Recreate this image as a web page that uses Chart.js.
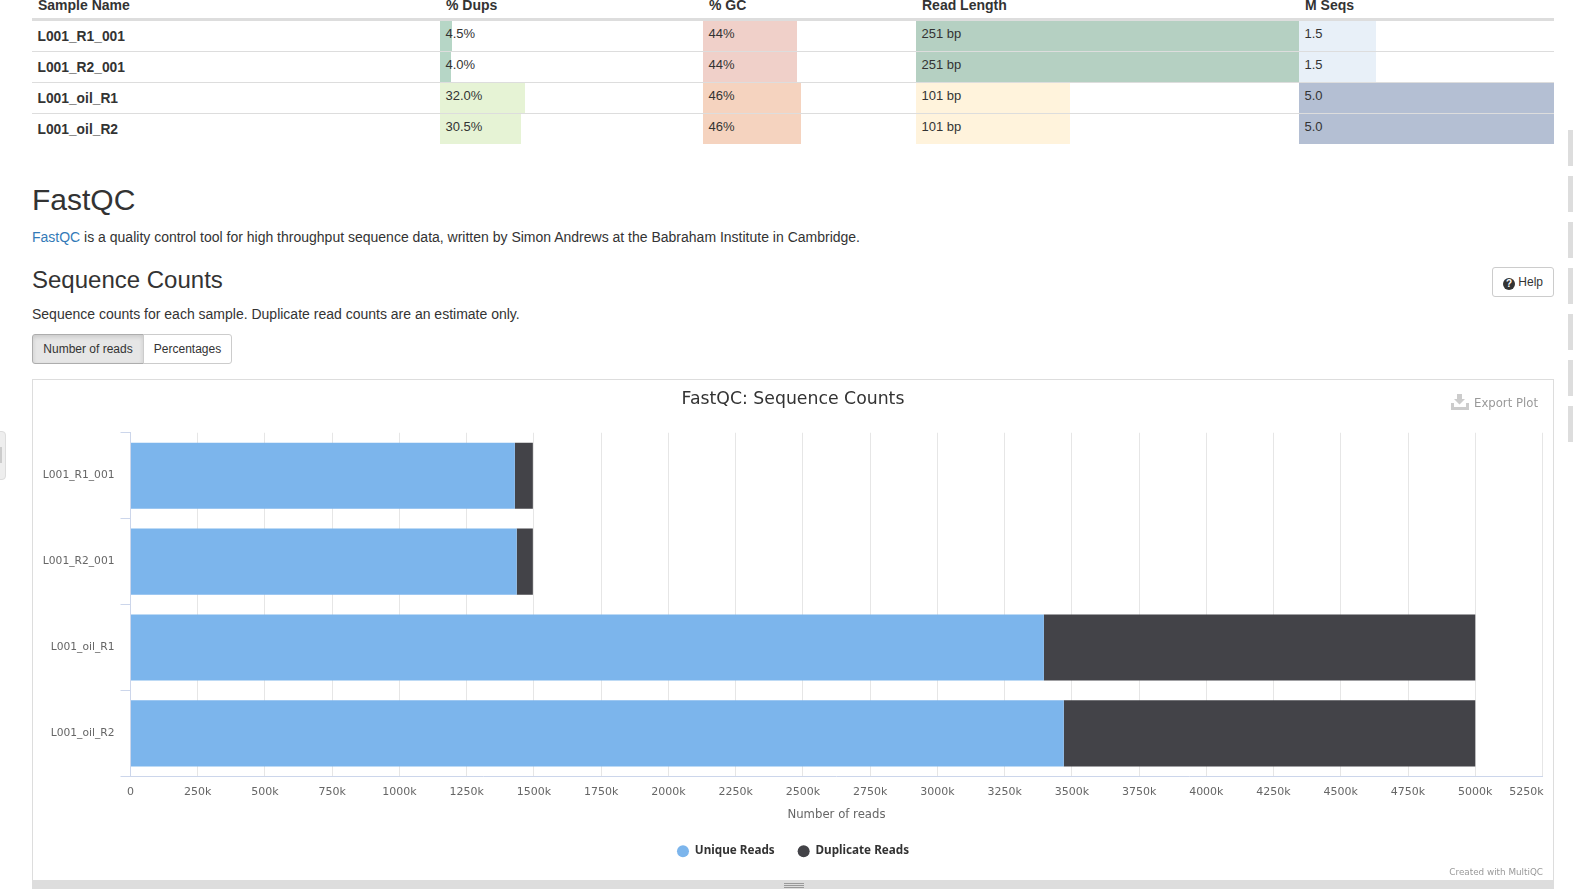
<!DOCTYPE html>
<html>
<head>
<meta charset="utf-8">
<title>FastQC: Sequence Counts</title>
<script src="https://cdn.jsdelivr.net/npm/chart.js@4"></script>
<style>
    html, body { margin: 0; padding: 0; background: #fff; }
    body { width: 1573px; height: 889px; overflow: hidden; position: relative; font-family: "Liberation Sans", Arial, sans-serif; font-size: 14px; color: #333; }
    .abs { position: absolute; white-space: nowrap; }
    .cell-bar { position: absolute; height: 30px; }
    .cell-text { position: absolute; line-height: 20px; color: #333; white-space: nowrap; }
    .btn { position: absolute; box-sizing: border-box; border: 1px solid #ccc; text-align: center; font-size: 12px; background: #fff; }
    #chart-box { position: absolute; left: 32px; top: 379px; width: 1522px; height: 501px; box-sizing: border-box; border: 1px solid #ddd; border-bottom: none; }
    #chart-wrap { position: absolute; left: 0; top: 0; width: 1520px; height: 500px; }
</style>
</head>
<body>
<div id="summary"></div>

<div class="abs" style="left:32px;top:182px;font-size:30px;line-height:36px;">FastQC</div>
<div class="abs" style="left:32px;top:227px;line-height:20px;"><span style="color:#337ab7;">FastQC</span> is a quality control tool for high throughput sequence data, written by Simon Andrews at the Babraham Institute in Cambridge.</div>
<div class="abs" style="left:32px;top:266px;font-size:24px;line-height:28px;">Sequence Counts</div>
<div class="abs" style="left:32px;top:304px;line-height:20px;">Sequence counts for each sample. Duplicate read counts are an estimate only.</div>

<div class="btn" style="left:32px;top:334px;width:112px;height:30px;line-height:28px;background:#e6e6e6;border-color:#adadad;border-radius:3px 0 0 3px;box-shadow:inset 0 2px 4px rgba(0,0,0,.125);">Number of reads</div>
<div class="btn" style="left:143px;top:334px;width:89px;height:30px;line-height:28px;border-radius:0 3px 3px 0;">Percentages</div>

<div class="btn" style="left:1492px;top:267px;width:62px;height:30px;line-height:28px;border-radius:3px;">
    <span style="display:inline-block;width:12px;height:12px;line-height:12px;border-radius:50%;background:#333;color:#fff;font-size:10px;font-weight:bold;vertical-align:-1px;">?</span> Help
</div>

<div id="chart-box">
    <div id="chart-wrap"><canvas id="sequence-counts"></canvas></div>
</div>

<svg class="abs" style="left:1451px;top:394px;" width="18" height="16" viewBox="0 0 18 16">
    <path d="M6 0h5v5h3l-5.5 5.5L3 5h3z M0 9h3v4h12V9h3v7H0z" fill="#ccc"/>
</svg>
<div class="abs" style="left:1474px;top:395px;font-family:'DejaVu Sans';font-size:11.7px;line-height:16px;color:#999;">Export Plot</div>
<div class="abs" style="right:30px;top:866px;font-family:'DejaVu Sans';font-size:8.8px;line-height:12px;color:#999;">Created with MultiQC</div>

<!-- drag handle under the plot -->
<div class="abs" style="left:32px;top:880px;width:1522px;height:9px;background:#ddd;"></div>
<div class="abs" style="left:784px;top:883px;width:20px;height:1px;background:#999;"></div>
<div class="abs" style="left:784px;top:885px;width:20px;height:1px;background:#999;"></div>
<div class="abs" style="left:784px;top:887px;width:20px;height:1px;background:#999;"></div>

<!-- page furniture at the window edges -->
<div class="abs" style="left:-6px;top:431px;width:12px;height:49px;box-sizing:border-box;background:#eee;border:1px solid #ddd;border-radius:4px;"></div>
<div class="abs" style="left:0;top:447px;width:2px;height:16px;background:#ccc;"></div>
<div id="side-strip"></div>

<script>
const sampleNames = ['L001_R1_001', 'L001_R2_001', 'L001_oil_R1', 'L001_oil_R2'];
const uniqueReads = [1429000, 1436000, 3396000, 3470000];
const duplicateReads = [67000, 60000, 1604000, 1530000];
const xTickStep = 250000;
const xMax = 5250000;

const pctDups = [4.5, 4.0, 32.0, 30.5];
const pctGC = [44, 44, 46, 46];
const readLength = [251, 251, 101, 101];
const mSeqs = [1.5, 1.5, 5.0, 5.0];

const dupsColors = ['#b6d6c6', '#b6d6c6', '#e6f3d5', '#e6f3d5'];
const gcColors = ['#f0d0c9', '#f0d0c9', '#f5d3bf', '#f5d3bf'];
const lengthColors = ['#b5d0c2', '#b5d0c2', '#fff3dc', '#fff3dc'];
const seqsColors = ['#e8f0f8', '#e8f0f8', '#b4bfd3', '#b4bfd3'];

// General stats table above the plot, bars are plain divs like the original report
function renderSummary() {
    const columns = [
        { title: '% Dups', left: 440, width: 266, max: 100, values: pctDups, colors: dupsColors, fmt: v => v.toFixed(1) + '%' },
        { title: '% GC', left: 703, width: 213, max: 100, values: pctGC, colors: gcColors, fmt: v => v + '%' },
        { title: 'Read Length', left: 916, width: 383, max: 251, values: readLength, colors: lengthColors, fmt: v => v + ' bp' },
        { title: 'M Seqs', left: 1299, width: 255, max: 5, values: mSeqs, colors: seqsColors, fmt: v => v.toFixed(1) }
    ];
    const rowTop = i => 21 + i * 31;

    let html = `<div class="cell-text" style="left:38px;top:-5px;font-weight:bold;">Sample Name</div>`;
    html += `<div class="abs" style="left:32px;top:18px;width:1522px;height:3px;background:#ddd;"></div>`;

    columns.forEach(col => {
        html += `<div class="cell-text" style="left:${col.left + 6}px;top:-5px;font-weight:bold;">${col.title}</div>`;
        col.values.forEach((v, i) => {
            const w = col.width * v / col.max;
            html += `<div class="cell-bar" style="left:${col.left}px;top:${rowTop(i)}px;width:${w}px;background:${col.colors[i]};"></div>`;
            html += `<div class="cell-text" style="left:${col.left + 5.5}px;top:${rowTop(i) + 3}px;font-size:13px;z-index:2;">${col.fmt(v)}</div>`;
        });
    });

    sampleNames.forEach((name, i) => {
        html += `<div class="cell-text" style="left:37.5px;top:${rowTop(i) + 6}px;font-weight:bold;font-size:13.8px;">${name}</div>`;
        if (i < 3) html += `<div class="abs" style="left:32px;top:${rowTop(i) + 30}px;width:1522px;height:1px;background:#ddd;z-index:1;"></div>`;
    });

    document.getElementById('summary').innerHTML = html;
}

function renderSideStrip() {
    let html = '';
    for (let i = 0; i < 7; i++) {
        html += `<div class="abs" style="left:1568px;top:${130 + i * 46}px;width:5px;height:36px;background:#ddd;"></div>`;
    }
    document.getElementById('side-strip').innerHTML = html;
}

// Highcharts keeps the last label inside the plot, Chart.js centres it on the tick
const shiftLastTick = {
    id: 'shiftLastTick',
    beforeDraw(chart) {
        const items = chart.scales.x.getLabelItems();
        const last = items[items.length - 1];
        if (last && !last.shifted) {
            last.options.translation[0] -= 16;
            last.shifted = true;
        }
    }
};

renderSummary();
renderSideStrip();

new Chart(document.getElementById('sequence-counts'), {
    type: 'bar',
    plugins: [shiftLastTick],
    data: {
        labels: sampleNames,
        datasets: [
            { label: 'Unique Reads', data: uniqueReads, backgroundColor: '#7cb5ec' },
            { label: 'Duplicate Reads', data: duplicateReads, backgroundColor: '#434348' }
        ]
    },
    options: {
        indexAxis: 'y',
        responsive: true,
        maintainAspectRatio: false,
        animation: false,
        barPercentage: 0.77,
        categoryPercentage: 1,
        layout: { padding: { bottom: 13 } },
        plugins: {
            tooltip: { enabled: false },
            title: {
                display: true,
                text: 'FastQC: Sequence Counts',
                color: '#333',
                font: { family: 'DejaVu Sans', size: 17.3, weight: 'normal' },
                padding: { top: 9, bottom: 23 }
            },
            legend: {
                position: 'bottom',
                labels: {
                    usePointStyle: true,
                    pointStyle: 'circle',
                    boxHeight: 8.5,
                    pointStyleWidth: 12,
                    color: '#333',
                    font: { family: 'Noto Sans', size: 11.7, weight: 'bold' },
                    padding: 23
                }
            }
        },
        scales: {
            x: {
                stacked: true,
                min: 0,
                max: xMax,
                afterFit: scale => {
                    scale.height = 46;
                    scale.paddingLeft = 0;
                    scale.paddingRight = 10.5;
                },
                grid: { color: '#e6e6e6', drawTicks: false },
                border: { color: '#ccd6eb' },
                ticks: {
                    stepSize: xTickStep,
                    autoSkip: false,
                    maxRotation: 0,
                    padding: 9,
                    color: '#666',
                    font: { family: 'DejaVu Sans', size: 11 },
                    callback: v => v === 0 ? '0' : (v / 1000) + 'k'
                },
                title: {
                    display: true,
                    text: 'Number of reads',
                    color: '#666',
                    font: { family: 'DejaVu Sans', size: 11.7 },
                    padding: { top: 0, bottom: 0 }
                }
            },
            y: {
                stacked: true,
                afterFit: scale => { scale.width = 97.5; },
                grid: { offset: true, drawOnChartArea: false, color: '#ccd6eb', tickLength: 10 },
                border: { color: '#ccd6eb' },
                ticks: {
                    color: '#666',
                    padding: 6,
                    font: { family: 'DejaVu Sans', size: 10.7 }
                }
            }
        }
    }
});
</script>
</body>
</html>
